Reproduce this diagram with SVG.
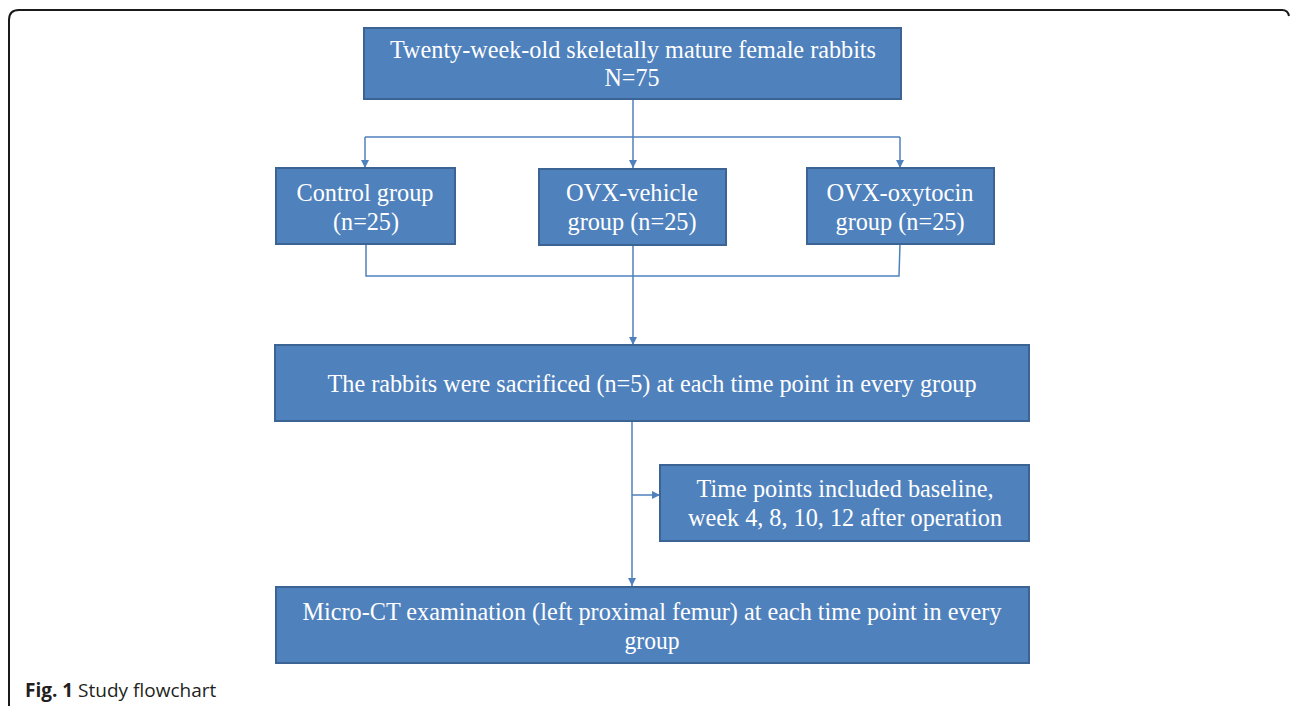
<svg xmlns="http://www.w3.org/2000/svg" width="1290" height="706" viewBox="0 0 1290 706">
<style>
.box{fill:#4F81BD;stroke:#3B6494;stroke-width:2}
.t{font-family:"Liberation Serif","Times New Roman",serif;font-size:26px;fill:#FFFFFF;text-anchor:middle}
.c{fill:none;stroke:#4F81BD;stroke-width:1.5}
.cap{font-family:"Open Sans","Noto Sans","Liberation Sans",sans-serif;font-size:19px;fill:#231F20}
</style>
<defs>
<marker id="ah" viewBox="0 0 10 10" refX="10" refY="5" markerWidth="8" markerHeight="8" markerUnits="userSpaceOnUse" orient="auto">
<path d="M0,0 L10,5 L0,10 z" fill="#4F81BD"/>
</marker>
</defs>
<rect width="1290" height="706" fill="#FFFFFF"/>
<path d="M9,720 L9,20 Q9,10 19,10 L1282,10 Q1288,10 1289,16" fill="none" stroke="#1A1A1A" stroke-width="2"/>
<g id="connectors">
<path class="c" d="M633,99 L633,168" marker-end="url(#ah)"/>
<path class="c" d="M365,137 L900,137"/>
<path class="c" d="M365,137 L365,168" marker-end="url(#ah)"/>
<path class="c" d="M900,137 L900,168" marker-end="url(#ah)"/>
<path class="c" d="M366,244 L366,276 L899,276 L900,244"/>
<path class="c" d="M633,245 L633,345" marker-end="url(#ah)"/>
<path class="c" d="M632,421 L632,586" marker-end="url(#ah)"/>
<path class="c" d="M632,495 L660,495" marker-end="url(#ah)"/>
</g>
<g id="n-top">
<rect class="box" x="364" y="28" width="537" height="71"/>
<text class="t" x="633" y="58" textLength="486" lengthAdjust="spacingAndGlyphs">Twenty-week-old skeletally mature female rabbits</text>
<text class="t" x="632" y="86" textLength="55" lengthAdjust="spacingAndGlyphs">N=75</text>
</g>
<g id="n-control">
<rect class="box" x="276" y="168" width="179" height="76"/>
<text class="t" x="365" y="201" textLength="137" lengthAdjust="spacingAndGlyphs">Control group</text>
<text class="t" x="366" y="230" textLength="66" lengthAdjust="spacingAndGlyphs">(n=25)</text>
</g>
<g id="n-vehicle">
<rect class="box" x="539" y="169" width="187" height="76"/>
<text class="t" x="632" y="201" textLength="132" lengthAdjust="spacingAndGlyphs">OVX-vehicle</text>
<text class="t" x="632" y="230" textLength="129" lengthAdjust="spacingAndGlyphs">group (n=25)</text>
</g>
<g id="n-oxytocin">
<rect class="box" x="807" y="168" width="187" height="76"/>
<text class="t" x="900" y="201" textLength="147" lengthAdjust="spacingAndGlyphs">OVX-oxytocin</text>
<text class="t" x="900" y="230" textLength="129" lengthAdjust="spacingAndGlyphs">group (n=25)</text>
</g>
<g id="n-sacrificed">
<rect class="box" x="275" y="345" width="754" height="76"/>
<text class="t" x="652" y="392" textLength="649" lengthAdjust="spacingAndGlyphs">The rabbits were sacrificed (n=5) at each time point in every group</text>
</g>
<g id="n-timepoints">
<rect class="box" x="660" y="465" width="369" height="76"/>
<text class="t" x="845" y="497" textLength="297" lengthAdjust="spacingAndGlyphs">Time points included baseline,</text>
<text class="t" x="845" y="526" textLength="314" lengthAdjust="spacingAndGlyphs">week 4, 8, 10, 12 after operation</text>
</g>
<g id="n-microct">
<rect class="box" x="276" y="587" width="753" height="76"/>
<text class="t" x="652" y="620" textLength="699" lengthAdjust="spacingAndGlyphs">Micro-CT examination (left proximal femur) at each time point in every</text>
<text class="t" x="652" y="649" textLength="55" lengthAdjust="spacingAndGlyphs">group</text>
</g>
<text class="cap" x="25" y="697"><tspan font-weight="bold">Fig. 1</tspan> Study flowchart</text>
</svg>
